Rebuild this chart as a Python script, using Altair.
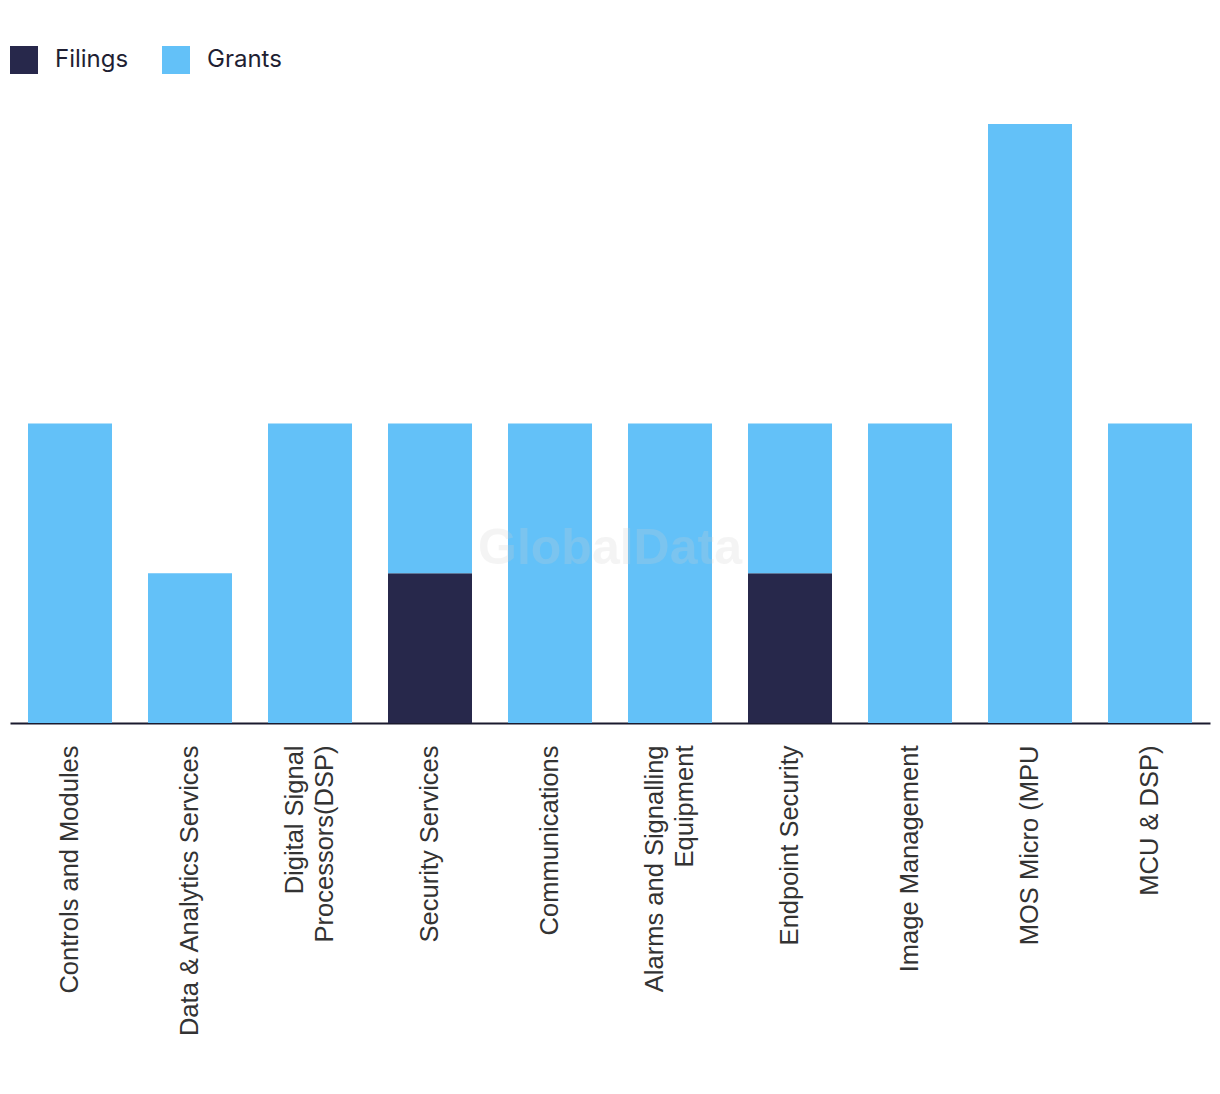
import altair as alt
import pandas as pd

categories = [
    "Controls and Modules",
    "Data & Analytics Services",
    "Digital Signal Processors(DSP)",
    "Security Services",
    "Communications",
    "Alarms and Signalling Equipment",
    "Endpoint Security",
    "Image Management",
    "MOS Micro (MPU",
    "MCU & DSP)",
]
filings = [0, 0, 0, 1, 0, 0, 1, 0, 0, 0]
grants = [2, 1, 2, 1, 2, 2, 1, 2, 4, 2]
series = ["Filings", "Grants"]
colors = ["#27284b", "#63c1f8"]

rows = []
for c, f, g in zip(categories, filings, grants):
    rows.append({"category": c, "series": "Filings", "value": f, "ord": 0})
    rows.append({"category": c, "series": "Grants", "value": g, "ord": 1})
df = pd.DataFrame(rows)

label_expr = (
    "datum.label == 'Digital Signal Processors(DSP)' ? ['Digital Signal', 'Processors(DSP)'] : "
    "datum.label == 'Alarms and Signalling Equipment' ? ['Alarms and Signalling', 'Equipment'] : datum.label"
)
two_line_test = (
    "datum.value == 'Digital Signal Processors(DSP)' || "
    "datum.value == 'Alarms and Signalling Equipment'"
)

bars = alt.Chart(df).mark_bar().encode(
    x=alt.X(
        "category:N",
        sort=categories,
        scale=alt.Scale(paddingInner=0.3, paddingOuter=0.15),
        axis=alt.Axis(
            title=None,
            labelAngle=-90,
            labelAlign="right",
            labelBaseline="middle",
            labelFont="Liberation Sans",
            labelFontSize=25.5,
            labelColor="#333333",
            labelPadding=22,
            labelLineHeight=30,
            labelExpr=label_expr,
            labelOffset={"condition": {"test": two_line_test, "value": -15}, "value": 0},
            ticks=False,
            domainColor="#1a1a2e",
            domainWidth=2,
            labelLimit=400,
        ),
    ),
    y=alt.Y(
        "value:Q",
        stack="zero",
        scale=alt.Scale(domain=[0, 4], nice=False),
        axis=None,
    ),
    color=alt.Color(
        "series:N",
        scale=alt.Scale(domain=series, range=colors),
        legend=alt.Legend(
            title=None,
            orient="none",
            legendX=0,
            legendY=-78,
            direction="horizontal",
            symbolType="square",
            symbolSize=784,
            symbolStrokeWidth=0,
            labelFont="Inter",
            labelFontSize=24,
            labelColor="#1f1f33",
            labelOffset=17,
            columnPadding=33,
        ),
    ),
    order=alt.Order("ord:Q"),
)

wm = alt.Chart(pd.DataFrame({"t": ["GlobalData"]})).mark_text(
    font="Liberation Sans",
    fontWeight="bold",
    fontSize=50,
    color="#d0d0d0",
    opacity=0.22,
    align="center",
    baseline="middle",
).encode(text="t:N", x=alt.value(600), y=alt.value(425))

chart = (
    alt.layer(bars, wm)
    .properties(
        width=1200,
        height=599,
        padding={"left": 2, "top": 116, "right": 2, "bottom": 360},
        autosize="none",
        background="white",
    )
    .configure_view(strokeWidth=0, stroke="transparent")
)

chart.save("out.html", embed_options={"renderer": "svg", "actions": False})
